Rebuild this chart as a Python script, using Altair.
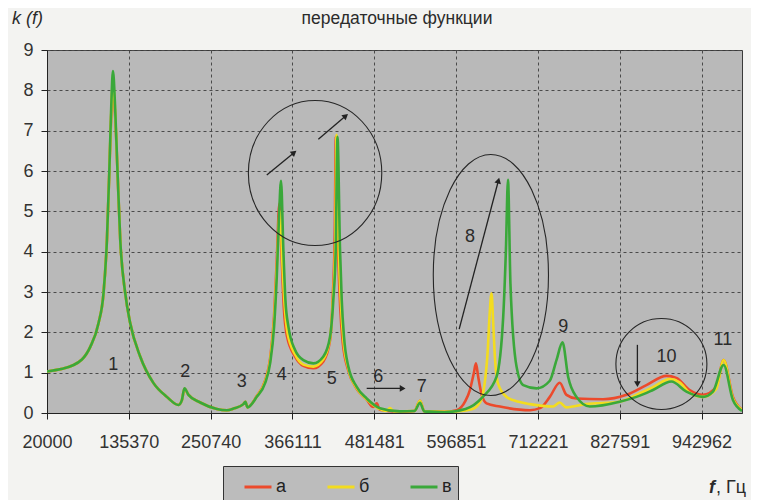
import altair as alt
import pandas as pd

TITLE = "передаточные функции"
Y_LABEL = "k (f)"
X_LABEL_F = "f"
X_LABEL_UNIT = ", Гц"
SERIES = ["а", "б", "в"]
COLORS = ["#ec4a2c", "#f3dc1f", "#3aa83a"]
X_TICKS = [20000, 135370, 250740, 366111, 481481, 596851, 712221, 827591, 942962]
Y_TICKS = list(range(10))

# series "а" (red)
F_A = [20000, 57500, 81000, 92700, 99700, 104500, 107800, 110600, 112700, 116000, 119500, 123300,
       130300, 137300, 151400, 170200, 189000, 205400, 210200, 213800, 219500, 236000, 259500, 273600,
       283000, 297000, 299800, 302600, 315800, 327500, 334600, 340200, 344000, 347700, 351000, 354000,
       358400, 369800, 381500, 395600, 409700, 419100, 423000, 425800, 427300, 430500, 433500, 437000,
       444900, 456700, 470800, 480000, 485000, 489000, 517700, 538000, 546000, 552000, 580000, 597600,
       610000, 616300, 622000, 624800, 628000, 633000, 639800, 658600, 700900, 715200, 729000, 743000,
       752500, 766600, 804100, 837000, 865200, 893400, 907500, 926200, 945000, 963800, 974100, 987200,
       1000000]
K_A = [1.03, 1.19, 1.64, 2.23, 2.97, 4.29, 5.95, 7.4, 8.05, 7.4, 5.95, 4.29,
       2.97, 2.23, 1.40, 0.74, 0.40, 0.20, 0.32, 0.60, 0.45, 0.26, 0.10, 0.07,
       0.11, 0.22, 0.28, 0.14, 0.42, 0.80, 1.35, 2.40, 3.80, 5.20, 3.80, 2.60,
       1.90, 1.40, 1.17, 1.11, 1.28, 1.80, 2.90, 4.50, 6.85, 4.00, 2.60, 1.75,
       1.05, 0.60, 0.33, 0.15, 0.24, 0.08, 0.03, 0.05, 0.30, 0.04, 0.03, 0.07,
       0.30, 0.57, 1.00, 1.23, 0.90, 0.45, 0.24, 0.16, 0.07, 0.12, 0.40, 0.75,
       0.45, 0.36, 0.34, 0.45, 0.69, 0.92, 0.87, 0.57, 0.45, 0.65, 1.31, 0.40,
       0.08]

# series "б" (yellow)
F_B = [20000, 57500, 81000, 92700, 99700, 104500, 107800, 110600, 112900, 116000, 119500, 123300,
       130300, 137300, 151400, 170200, 189000, 205400, 210200, 213800, 219500, 236000, 259500, 273600,
       283000, 297000, 299800, 302600, 315800, 327500, 334600, 340200, 344000, 348500, 352000, 355000,
       359000, 369800, 381500, 395600, 409700, 419100, 423300, 426500, 428300, 431500, 434500, 438000,
       444900, 456700, 470800, 489000, 498000, 503600, 509000, 538000, 546000, 552000, 580000, 597600,
       620000, 630000, 634500, 641500, 644000, 646800, 649000, 651000, 655800, 667800, 685000, 700900,
       733600, 743000, 752000, 780000, 827000, 851200, 874500, 898100, 912000, 926200, 945000, 963800,
       974100, 987200, 1000000]
K_B = [1.03, 1.19, 1.64, 2.23, 2.97, 4.29, 5.95, 7.5, 8.2, 7.5, 5.95, 4.29,
       2.97, 2.23, 1.40, 0.74, 0.40, 0.20, 0.32, 0.60, 0.45, 0.26, 0.10, 0.07,
       0.11, 0.22, 0.28, 0.14, 0.41, 0.78, 1.30, 2.30, 3.60, 5.00, 3.70, 2.70,
       2.00, 1.45, 1.20, 1.15, 1.33, 1.85, 2.85, 4.30, 6.90, 4.00, 2.70, 1.80,
       1.10, 0.62, 0.34, 0.10, 0.05, 0.12, 0.04, 0.05, 0.30, 0.04, 0.03, 0.04,
       0.10, 0.25, 0.45, 1.56, 2.40, 2.97, 2.30, 1.56, 0.74, 0.40, 0.28, 0.22,
       0.16, 0.26, 0.14, 0.22, 0.28, 0.45, 0.64, 0.84, 0.76, 0.50, 0.40, 0.60,
       1.31, 0.36, 0.08]

# series "в" (green)
F_V = [20000, 57500, 81000, 92700, 99700, 104500, 107800, 110600, 113000, 116000, 119500, 123300,
       130300, 137300, 151400, 170200, 189000, 205400, 210200, 213800, 219500, 236000, 259500, 273600,
       283000, 297000, 299800, 302600, 315800, 327500, 334600, 340200, 344000, 347200, 350000, 353300,
       356200, 360400, 369800, 381500, 395600, 409700, 419100, 423700, 427100, 429600, 433200, 435600,
       438800, 444900, 456700, 470800, 489500, 517700, 538000, 546000, 552000, 580000, 610200, 634500,
       653900, 663300, 667100, 670000, 673500, 682100, 691500, 710300, 729000, 738400, 746900, 754800,
       766600, 785400, 827600, 851200, 874500, 900400, 921600, 945000, 959000, 974100, 987200, 1000000]
K_V = [1.03, 1.19, 1.64, 2.23, 2.97, 4.29, 5.95, 7.6, 8.48, 7.6, 5.95, 4.29,
       2.97, 2.23, 1.40, 0.74, 0.40, 0.20, 0.32, 0.61, 0.45, 0.26, 0.10, 0.07,
       0.11, 0.22, 0.28, 0.14, 0.40, 0.74, 1.23, 2.14, 3.38, 4.87, 5.76, 4.04,
       2.80, 2.14, 1.56, 1.31, 1.23, 1.40, 1.89, 2.80, 4.04, 6.85, 4.04, 2.80,
       1.89, 1.15, 0.65, 0.36, 0.12, 0.04, 0.05, 0.25, 0.04, 0.02, 0.10, 0.40,
       0.90, 2.39, 4.04, 5.78, 3.20, 1.15, 0.69, 0.61, 0.80, 1.31, 1.75, 0.90,
       0.40, 0.16, 0.28, 0.40, 0.57, 0.78, 0.53, 0.40, 0.53, 1.19, 0.32, 0.05]

# numbered peak labels
NUM_LABELS = ["1", "2", "3", "4", "5", "6", "7", "8", "9", "10", "11"]
NUM_F = [113400, 214800, 294700, 351000, 421500, 487100, 548300, 616300, 747800, 893400, 973100]
NUM_K = [1.19, 1.02, 0.78, 0.94, 0.84, 0.90, 0.65, 4.37, 2.14, 1.40, 1.81]

# circled groups (center, height in px, width/height ratio)
ELL_F = [398000, 645900, 886350]
ELL_K = [5.95, 3.42, 1.215]
ELL_H = [145, 241, 91]
ELL_RATIO = [0.92, 0.478, 1.0]

# arrows
ARR_F1 = [329900, 402600, 601200, 470800, 852500]
ARR_K1 = [5.90, 6.79, 2.08, 0.61, 1.69]
ARR_F2 = [367400, 440200, 656200, 520100, 852500]
ARR_K2 = [6.44, 7.35, 5.74, 0.61, 0.74]
ARR_ANGLE = [51, 50, 15, 90, 180]

FONT = "Liberation Sans"
TXT = "#2b2b2b"

rows = []
for name, fs, ks in zip(SERIES, [F_A, F_B, F_V], [K_A, K_B, K_V]):
    for f, k in zip(fs, ks):
        rows.append({"f": f, "k": k, "s": name})
df = pd.DataFrame(rows)

xscale = alt.Scale(domain=[20000, 1000000], nice=False, zero=False)
yscale = alt.Scale(domain=[0, 9], nice=False)

axis_common = dict(
    labelFont=FONT, labelFontSize=18, labelColor="#333", tickColor="#222", tickSize=6,
    domainColor="#222", gridColor="#4a4a4a", gridDash=[3, 3], gridWidth=1, title=None,
)

lines = alt.Chart(df).mark_line(strokeWidth=2.6, clip=True, interpolate="monotone").encode(
    x=alt.X("f:Q", scale=xscale,
            axis=alt.Axis(values=X_TICKS, format="d", labelPadding=14, labelFlush=False, **axis_common)),
    y=alt.Y("k:Q", scale=yscale,
            axis=alt.Axis(values=Y_TICKS, labelPadding=8, **axis_common)),
    color=alt.Color("s:N", scale=alt.Scale(domain=SERIES, range=COLORS),
                    legend=alt.Legend(orient="none", legendX=176, legendY=416, direction="horizontal",
                                      title=None, fillColor="#bcbcbc", strokeColor="#333", padding=6,
                                      symbolType="stroke", symbolStrokeWidth=3, symbolSize=729,
                                      symbolOffset=14, labelFont=FONT, labelFontSize=18,
                                      labelColor="#222", labelOffset=3, columnPadding=25)),
    order=alt.Order("f:Q"),
)

num_df = pd.DataFrame({"f": NUM_F, "k": NUM_K, "t": NUM_LABELS})
nums = alt.Chart(num_df).mark_text(font=FONT, fontSize=18, color=TXT, align="center",
                                   baseline="middle").encode(
    x=alt.X("f:Q", scale=xscale), y=alt.Y("k:Q", scale=yscale), text="t:N")

ell_df = pd.DataFrame({
    "f": ELL_F, "k": ELL_K,
    "path": [f"M-{r},0A{r},1,0,1,0,{r},0A{r},1,0,1,0,-{r},0Z" for r in ELL_RATIO],
    "sz": [h * h for h in ELL_H],
})
ells = alt.Chart(ell_df).mark_point(filled=False, color="#262626", strokeWidth=1.1, opacity=1).encode(
    x=alt.X("f:Q", scale=xscale), y=alt.Y("k:Q", scale=yscale),
    shape=alt.Shape("path:N", scale=None), size=alt.Size("sz:Q", scale=None))

arr_df = pd.DataFrame({"f1": ARR_F1, "k1": ARR_K1, "f2": ARR_F2, "k2": ARR_K2, "a": ARR_ANGLE})
arr_lines = alt.Chart(arr_df).mark_rule(color="#222", strokeWidth=1.3).encode(
    x=alt.X("f1:Q", scale=xscale), y=alt.Y("k1:Q", scale=yscale), x2="f2:Q", y2="k2:Q")
arr_heads = alt.Chart(arr_df).mark_point(shape="triangle", filled=True, color="#222", size=45,
                                         opacity=1).encode(
    x=alt.X("f2:Q", scale=xscale), y=alt.Y("k2:Q", scale=yscale),
    angle=alt.Angle("a:Q", scale=None))

def label(text, x, y, size=18, style="normal", align="left", weight="normal"):
    d = pd.DataFrame({"t": [text]})
    return alt.Chart(d).mark_text(font=FONT, fontSize=size, fontStyle=style, fontWeight=weight,
                                  color=TXT, align=align, baseline="middle").encode(
        x=alt.value(x), y=alt.value(y), text="t:N")

title = label(TITLE, 350, -31, size=17.5, align="center")
ylab = label(Y_LABEL, -35, -31, size=18, style="italic")
xlab_f = label(X_LABEL_F, 662, 438, size=18, style="italic", weight="bold")
xlab_u = label(X_LABEL_UNIT, 669, 438, size=18)

chart = alt.layer(lines, ells, arr_lines, arr_heads, nums, title, ylab, xlab_f, xlab_u).properties(
    width=695, height=363, autosize=alt.AutoSizeParams(type="none"),
    padding={"left": 39, "top": 42, "right": 9, "bottom": 87},
    background="#f3f3f1",
).configure_view(fill="#b9b9b9", stroke="#3a3a3a", strokeWidth=1)

chart.save("out.html", embed_options={"renderer": "svg", "actions": False})
